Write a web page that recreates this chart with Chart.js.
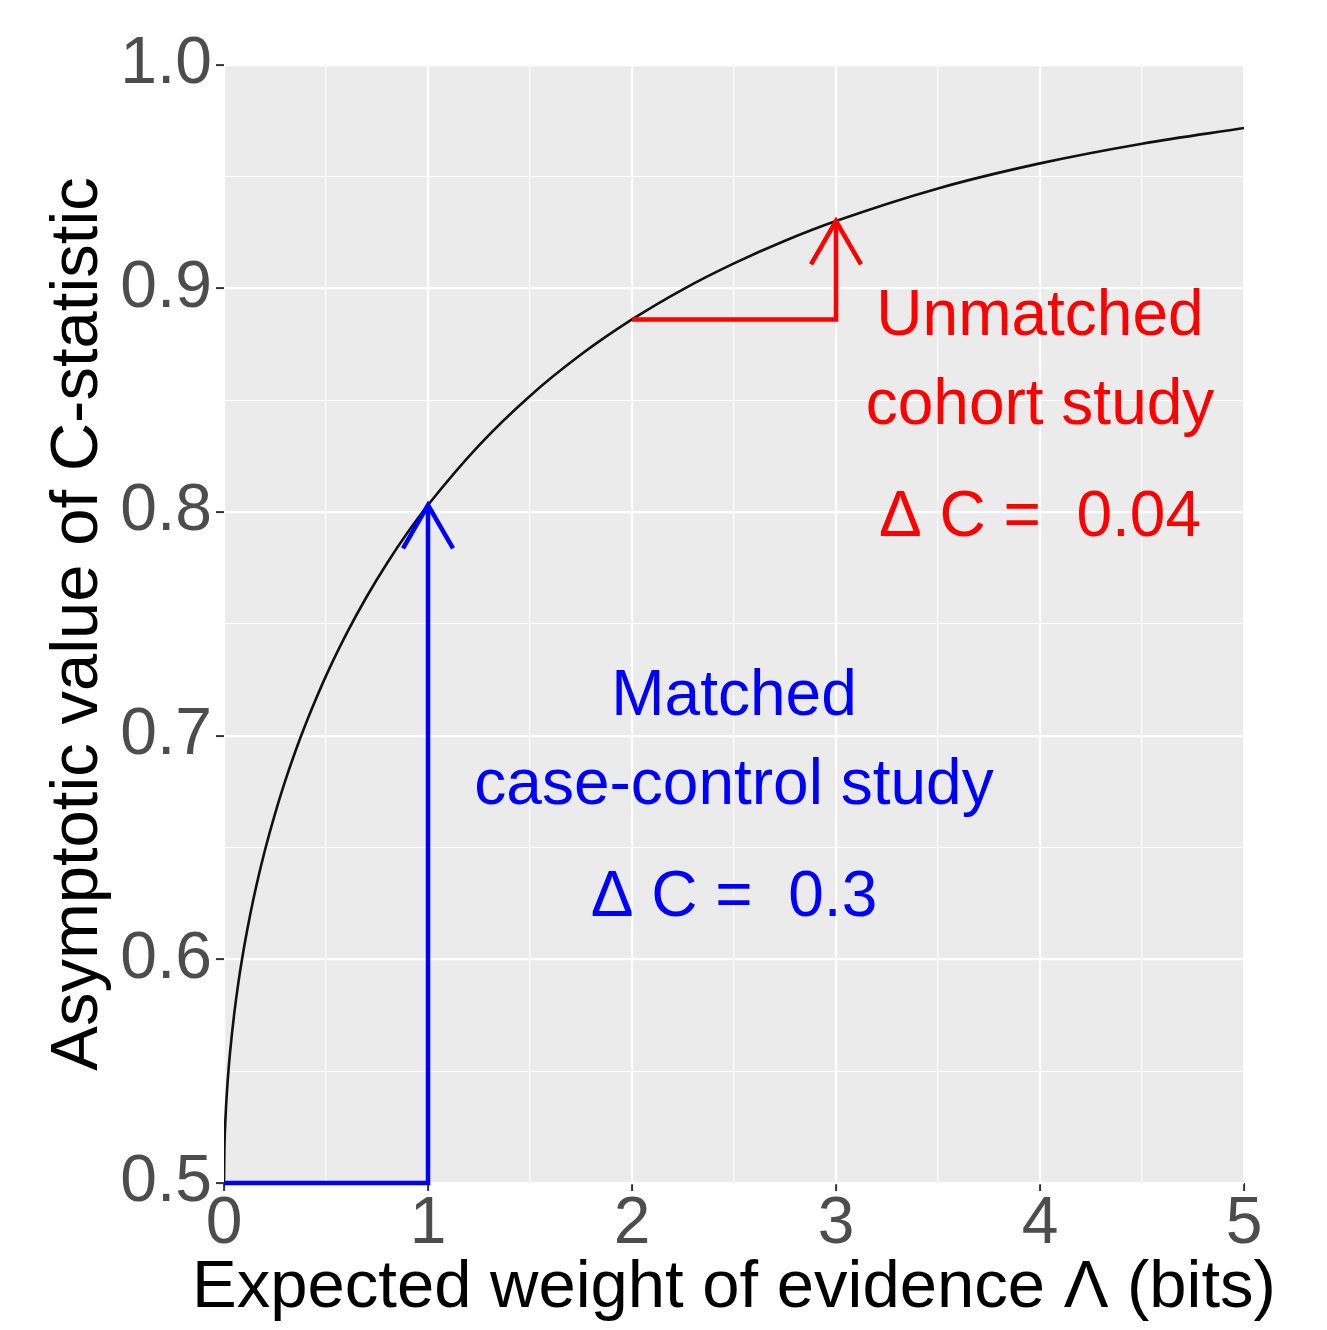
<!DOCTYPE html>
<html>
<head>
<meta charset="utf-8">
<script src="https://cdn.jsdelivr.net/npm/chart.js@4/dist/chart.umd.min.js"></script>
<style>
  html, body { margin: 0; padding: 0; background: #ffffff; }
  #c { display: block; }
</style>
</head>
<body>
<canvas id="c" width="1327" height="1330"></canvas>
<script>
// ---- Data ----
const lambdaBits = [0, 0.002, 0.005, 0.01, 0.02, 0.03, 0.05, 0.07, 0.1, 0.13, 0.16, 0.2, 0.25, 0.3, 0.35, 0.4, 0.5, 0.6, 0.7, 0.8, 0.9, 1, 1.25, 1.5, 1.75, 2, 2.25, 2.5, 2.75, 3, 3.5, 4, 4.5, 5];
const cStatistic = [0.5000, 0.5152, 0.5241, 0.5340, 0.5480, 0.5587, 0.5756, 0.5893, 0.6063, 0.6208, 0.6335, 0.6486, 0.6651, 0.6798, 0.6931, 0.7052, 0.7268, 0.7456, 0.7623, 0.7773, 0.7909, 0.8032, 0.8299, 0.8520, 0.8705, 0.8862, 0.8997, 0.9113, 0.9214, 0.9302, 0.9448, 0.9560, 0.9648, 0.9718];

const matchedX = [0, 1, 1];
const matchedY = [0.5, 0.5, 0.8032];
const unmatchedX = [2, 3, 3];
const unmatchedY = [0.8862, 0.8862, 0.9302];

const xTickLabels = ['0', '1', '2', '3', '4', '5'];
const yTickLabels = ['0.5', '0.6', '0.7', '0.8', '0.9', '1.0'];

const unmatchedText = ['Unmatched', 'cohort study', 'Δ C =  0.04'];
const unmatchedTextX = 4;
const unmatchedTextY = [0.89, 0.85, 0.80];
const matchedText = ['Matched', 'case-control study', 'Δ C =  0.3'];
const matchedTextX = 2.5;
const matchedTextY = [0.72, 0.68, 0.63];

const xTitle = 'Expected weight of evidence Λ (bits)';
const yTitle = 'Asymptotic value of C-statistic';

// ---- helpers ----
const toPts = (xs, ys) => xs.map((x, i) => ({ x: x, y: ys[i] }));
const FONT = "'Liberation Sans', Arial, Helvetica, sans-serif";
const BLUE = '#0000FF';
const RED = '#FF0000';

const panelBg = {
  id: 'panelBg',
  beforeDraw(chart) {
    const { ctx, chartArea: a } = chart;
    ctx.save();
    ctx.fillStyle = '#EBEBEB';
    ctx.fillRect(a.left, a.top, a.right - a.left, a.bottom - a.top);
    ctx.restore();
  }
};

const arrowHeads = {
  id: 'arrowHeads',
  afterDatasetsDraw(chart) {
    const ctx = chart.ctx;
    chart.data.datasets.forEach((ds, i) => {
      if (!ds.arrow) return;
      const pts = chart.getDatasetMeta(i).data;
      const tip = pts[pts.length - 1], prev = pts[pts.length - 2];
      const ang = Math.atan2(tip.y - prev.y, tip.x - prev.x);
      const len = 50, spread = Math.PI / 6;
      ctx.save();
      ctx.strokeStyle = ds.borderColor;
      ctx.lineWidth = ds.borderWidth;
      ctx.lineJoin = 'miter';
      ctx.beginPath();
      ctx.moveTo(tip.x - len * Math.cos(ang - spread), tip.y - len * Math.sin(ang - spread));
      ctx.lineTo(tip.x, tip.y);
      ctx.lineTo(tip.x - len * Math.cos(ang + spread), tip.y - len * Math.sin(ang + spread));
      ctx.stroke();
      ctx.restore();
    });
  }
};

const annotations = {
  id: 'annotations',
  afterDatasetsDraw(chart) {
    const { ctx, scales: { x, y } } = chart;
    ctx.save();
    ctx.font = '64px ' + FONT;
    ctx.textAlign = 'center';
    ctx.textBaseline = 'middle';
    const dy = 6;
    ctx.fillStyle = RED;
    unmatchedText.forEach((t, i) => ctx.fillText(t, x.getPixelForValue(unmatchedTextX), y.getPixelForValue(unmatchedTextY[i]) + dy));
    ctx.fillStyle = BLUE;
    matchedText.forEach((t, i) => ctx.fillText(t, x.getPixelForValue(matchedTextX), y.getPixelForValue(matchedTextY[i]) + dy));
    ctx.restore();
  }
};

// x-axis title drawn manually so it is not squeezed to the plot width
const xAxisTitle = {
  id: 'xAxisTitle',
  afterDraw(chart) {
    const { ctx, scales: { x } } = chart;
    ctx.save();
    ctx.font = '67px ' + FONT;
    ctx.fillStyle = '#000000';
    ctx.textAlign = 'center';
    ctx.textBaseline = 'middle';
    ctx.fillText(xTitle, (x.left + x.right) / 2, x.bottom - 41);
    ctx.restore();
  }
};

const isMajorX = v => Math.abs(v - Math.round(v)) < 1e-6;
const isMajorY = v => Math.abs(v * 10 - Math.round(v * 10)) < 1e-6;

new Chart(document.getElementById('c'), {
  type: 'scatter',
  data: {
    datasets: [
      {
        label: 'matched',
        data: toPts(matchedX, matchedY),
        showLine: true,
        borderColor: BLUE,
        borderWidth: 4.5,
        pointRadius: 0,
        tension: 0,
        clip: false,
        arrow: true
      },
      {
        label: 'unmatched',
        data: toPts(unmatchedX, unmatchedY),
        showLine: true,
        borderColor: RED,
        borderWidth: 4.5,
        pointRadius: 0,
        tension: 0,
        clip: false,
        arrow: true
      },
      {
        label: 'C',
        data: toPts(lambdaBits, cStatistic),
        showLine: true,
        borderColor: '#111111',
        borderWidth: 2.6,
        pointRadius: 0,
        cubicInterpolationMode: 'monotone'
      }
    ]
  },
  options: {
    responsive: false,
    devicePixelRatio: 1,
    animation: false,
    layout: { padding: { top: 65, right: 83, bottom: 0, left: 0 } },
    plugins: { legend: { display: false }, tooltip: { enabled: false } },
    scales: {
      x: {
        type: 'linear',
        min: 0, max: 5,
        afterFit(s) { s.height = 147; },
        border: { display: false },
        grid: {
          color: '#FFFFFF',
          lineWidth: c => (c.tick && isMajorX(c.tick.value)) ? 2.2 : 1.1,
          tickColor: c => (c.tick && isMajorX(c.tick.value)) ? '#333333' : 'rgba(0,0,0,0)',
          tickWidth: 2,
          tickLength: 8,
          drawTicks: true
        },
        ticks: {
          stepSize: 0.5,
          autoSkip: false,
          maxRotation: 0,
          padding: -6,
          color: '#4D4D4D',
          font: { family: FONT, size: 66 },
          callback: v => isMajorX(v) ? xTickLabels[Math.round(v)] : ''
        },
        title: { display: false }
      },
      y: {
        type: 'linear',
        min: 0.5, max: 1.0,
        afterFit(s) { s.width = 224; },
        border: { display: false },
        grid: {
          color: '#FFFFFF',
          lineWidth: c => (c.tick && isMajorY(c.tick.value)) ? 2.2 : 1.1,
          tickColor: c => (c.tick && isMajorY(c.tick.value)) ? '#333333' : 'rgba(0,0,0,0)',
          tickWidth: 2,
          tickLength: 8,
          drawTicks: true
        },
        ticks: {
          stepSize: 0.05,
          autoSkip: false,
          padding: 4,
          color: '#4D4D4D',
          font: { family: FONT, size: 66 },
          callback: v => isMajorY(v) ? yTickLabels[Math.round((v - 0.5) * 10)] : ''
        },
        title: {
          display: true,
          text: yTitle,
          color: '#000000',
          font: { family: FONT, size: 67 },
          padding: { top: 38, bottom: 0 }
        }
      }
    }
  },
  plugins: [panelBg, arrowHeads, annotations, xAxisTitle]
});
</script>
</body>
</html>
